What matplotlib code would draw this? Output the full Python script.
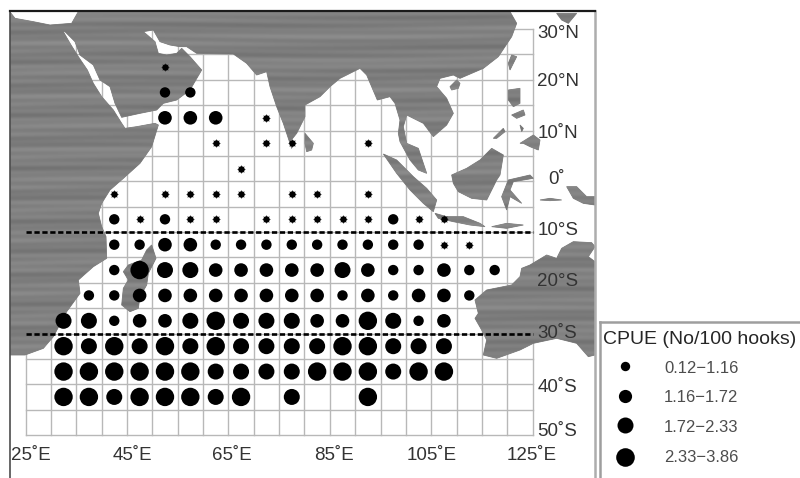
import numpy as np
import matplotlib
matplotlib.use("Agg")
import matplotlib.pyplot as plt
from matplotlib.path import Path
from matplotlib.patches import PathPatch

plt.rcParams["font.family"] = ["Liberation Sans", "DejaVu Sans"]

na = np.nan

# CPUE per 5 degree cell, one list per latitude row, west to east
lons = [27.5, 32.5, 37.5, 42.5, 47.5, 52.5, 57.5, 62.5, 67.5, 72.5,
        77.5, 82.5, 87.5, 92.5, 97.5, 102.5, 107.5, 112.5, 117.5, 122.5]
n225 = [na, na, na, na, na, 0.4, na, na, na, na, na, na, na, na, na, na, na, na, na, na]
n175 = [na, na, na, na, na, 0.9, 0.9, na, na, na, na, na, na, na, na, na, na, na, na, na]
n125 = [na, na, na, na, na, 1.5, 1.5, 1.5, na, 0.4, na, na, na, na, na, na, na, na, na, na]
n75 = [na, na, na, na, na, na, na, 0.4, na, 0.4, 0.4, na, na, 0.4, na, na, na, na, na, na]
n25 = [na, na, na, na, na, na, na, na, 0.4, na, na, na, na, na, na, na, na, na, na, na]
s25 = [na, na, na, 0.4, na, 0.4, 0.4, 0.4, 0.4, na, 0.4, 0.4, na, 0.4, na, na, na, na, na, na]
s75 = [na, na, na, 0.9, 0.4, 0.9, 0.4, 0.4, na, 0.4, 0.4, 0.4, 0.4, 0.4, 0.9, 0.4, 0.4, na, na, na]
s125 = [na, na, na, 0.9, 0.9, 1.4, 1.4, 0.9, 0.9, 0.9, 0.9, 0.9, 0.9, 0.9, 0.9, 0.9, 0.4, 0.4, na, na]
s175 = [na, na, na, 0.9, 2.9, 2.0, 2.0, 1.4, 1.4, 1.4, 1.4, 1.4, 2.0, 1.4, 0.9, 0.9, 1.4, 0.9, 0.9, na]
s225 = [na, na, 0.9, 0.9, 1.4, 1.4, 1.4, 1.4, 1.4, 1.4, 1.4, 1.4, 0.9, 1.4, 0.9, 1.4, 1.4, 0.9, na, na]
s275 = [na, 2.0, 2.0, 0.9, 1.4, 1.4, 2.0, 2.9, 2.0, 2.0, 2.0, 1.4, 1.4, 2.9, 2.0, 0.9, 1.4, na, na, na]
s325 = [na, 2.9, 2.0, 2.9, 2.0, 2.9, 2.0, 2.9, 2.0, 2.0, 2.0, 2.0, 2.9, 2.9, 2.0, 2.0, 2.0, na, na, na]
s375 = [na, 2.9, 2.9, 2.9, 2.9, 2.9, 2.9, 2.0, 2.0, 2.0, 2.0, 2.9, 2.9, 2.9, 2.0, 2.9, 2.9, na, na, na]
s425 = [na, 2.9, 2.9, 2.0, 2.9, 2.9, 2.9, 2.0, 2.9, na, 2.0, na, na, 2.9, na, na, na, na, na, na]
row_lats = [22.5, 17.5, 12.5, 7.5, 2.5, -2.5, -7.5, -12.5, -17.5, -22.5, -27.5, -32.5, -37.5, -42.5]
rows = [n225, n175, n125, n75, n25, s25, s75, s125, s175, s225, s275, s325, s375, s425]

legend_title = "CPUE (No/100 hooks)"
legend_labels = ["0.12\u22121.16", "1.16\u22121.72", "1.72\u22122.33", "2.33\u22123.86"]
lon_labels = ["25˚E", "45˚E", "65˚E", "85˚E", "105˚E", "125˚E"]
lat_labels = ["30°N", "20°N", "10˚N", "0˚", "10°S", "20°S", "30˚S", "40˚S", "50˚S"]

# coastlines at 3x, (x, y) with an offset per sheet
asia = [(660, 35), (680, 70), (665, 110), (625, 170), (580, 205), (510, 235), (490, 225),
        (450, 235), (440, 260), (470, 295), (490, 340), (470, 375), (430, 410), (400, 370),
        (350, 345), (340, 380), (350, 430), (385, 445), (410, 520), (385, 510), (360, 480),
        (330, 425), (325, 400), (330, 360), (315, 310), (300, 290), (262, 300), (230, 225),
        (210, 205), (150, 235), (120, 260), (90, 290), (45, 315), (45, 350), (20, 400), (0, 425)]
arabia = [(875, 445), (850, 370), (830, 320), (810, 260), (800, 215), (770, 225), (740, 190),
          (700, 162), (590, 160), (560, 140), (540, 140), (510, 135), (480, 125), (460, 90),
          (430, 95), (465, 125), (475, 160), (500, 165), (530, 160), (545, 145), (570, 170),
          (605, 210), (570, 270), (530, 300), (490, 310), (470, 330), (420, 340), (365, 352),
          (345, 310), (330, 260), (300, 240), (280, 195), (240, 165), (225, 125), (195, 95),
          (190, 95), (210, 130), (235, 170), (262, 210), (280, 250), (305, 290), (340, 330),
          (365, 370), (375, 385), (410, 380), (465, 370), (475, 375), (455, 440), (420, 490),
          (370, 535), (330, 570), (305, 610), (295, 640), (305, 680)]
africa_south = [(318, 20), (320, 85), (280, 110), (235, 150), (240, 190), (200, 245),
                (160, 320), (130, 355), (75, 375), (30, 375)]
africa_north = [(30, 35), (45, 55), (100, 65), (150, 75), (215, 70), (235, 35)]
madagascar = [(455, 45), (468, 85), (445, 130), (440, 165), (420, 200), (415, 235), (390, 245),
              (365, 225), (370, 175), (385, 150), (370, 125), (385, 105), (425, 90), (440, 60)]
sumatra = [(280, 462), (320, 480), (370, 530), (410, 565), (440, 600), (430, 635), (400, 610),
           (360, 570), (320, 520)]
java = [(435, 640), (470, 650), (520, 650), (570, 670), (585, 680), (540, 675), (490, 665), (445, 655)]
sunda = [(605, 680), (650, 670), (700, 675), (650, 685)]
borneo = [(485, 525), (530, 505), (570, 480), (605, 445), (640, 465), (630, 525), (620, 540),
          (590, 600), (545, 595), (505, 575), (490, 550)]
sulawesi = [(655, 540), (720, 525), (730, 535), (670, 545), (660, 570), (695, 610), (660, 590),
            (650, 630), (635, 590)]
luzon = [(655, 270), (690, 265), (690, 310), (670, 320), (655, 300)]
mindanao = [(690, 430), (730, 405), (750, 420), (745, 450), (720, 440), (700, 430)]
visayas = [(665, 345), (700, 330), (705, 345), (680, 355)]
samar = [(690, 375), (700, 385), (695, 395)]
palawan = [(610, 415), (640, 385), (645, 395), (620, 415)]
taiwan = [(660, 210), (680, 170), (665, 165), (655, 190)]
hainan = [(480, 260), (500, 240), (510, 250), (505, 265), (485, 270)]
sri_lanka = [(45, 400), (70, 430), (65, 450), (50, 455), (45, 430)]
new_guinea = [(830, 560), (860, 560), (890, 590), (915, 590), (915, 615), (880, 610), (850, 595)]
ceram = [(750, 600), (780, 595), (815, 600), (780, 602)]
japan = [(800, 40), (860, 40), (835, 70), (815, 60)]
australia = [(915, 95), (895, 80), (915, 50), (905, 38), (850, 35), (815, 55), (800, 85), (770, 75),
             (720, 105), (695, 115), (690, 140), (665, 165), (590, 180), (555, 210), (565, 250),
             (555, 265), (575, 300), (590, 330), (580, 375), (620, 385), (690, 360), (730, 340),
             (800, 325), (860, 340), (895, 380), (915, 375)]


def lon_of(px):
    return 25 + (px - 25.5) / 5.072


def lat_of(py):
    return 30 - (py - 29) / 5.075


def trace(points, ox, oy):
    return [(lon_of(ox + x / 3), lat_of(oy + y / 3)) for x, y in points]


def radius_to_size(r):
    # pixel radius to scatter area at dpi 100
    return (2 * r * 0.72) ** 2


fig = plt.figure(figsize=(8, 4.78), dpi=100)
fig.patch.set_facecolor("white")

# main map frame, in pixels 10..595 / 11..478
ax = fig.add_axes([10 / 800, 0, 585 / 800, 467 / 478])
ax.set_xlim(lon_of(10), lon_of(595))
ax.set_ylim(lat_of(478), lat_of(11))
ax.set_xticks([])
ax.set_yticks([])
ax.spines["bottom"].set_visible(False)
ax.spines["left"].set_color("0.3")
ax.spines["left"].set_linewidth(1.2)
ax.spines["top"].set_color("0.1")
ax.spines["top"].set_linewidth(1.6)
ax.spines["right"].set_color("0.68")
ax.spines["right"].set_linewidth(1.8)

# 5 degree grid
for lon in range(25, 130, 5):
    ax.plot([lon, lon], [-50, 30], color="0.72", lw=1.0, zorder=1)
for lat in range(-50, 35, 5):
    ax.plot([25, 125], [lat, lat], color="0.72", lw=1.0, zorder=1)

# land
main_land = ([(lon_of(10), lat_of(355)), (lon_of(10), lat_of(12))]
             + trace(africa_north[1:], 0, 0)
             + [(lon_of(510), lat_of(12))]
             + trace(asia, 290, 0)
             + trace(arabia, 0, 0)
             + trace(africa_south, 0, 230))
islands = [trace(sri_lanka, 290, 0), trace(sumatra, 290, 0), trace(java, 290, 0), trace(sunda, 290, 0),
           trace(borneo, 290, 0), trace(sulawesi, 290, 0), trace(luzon, 290, 0), trace(mindanao, 290, 0),
           trace(visayas, 290, 0), trace(samar, 290, 0), trace(palawan, 290, 0), trace(taiwan, 290, 0),
           trace(hainan, 290, 0), trace(new_guinea, 290, 0), trace(ceram, 290, 0), trace(japan, 290, 0),
           trace(madagascar, 0, 230), trace(australia, 290, 230)]

verts, codes = [], []
for poly in [main_land] + islands:
    verts += poly + [poly[0]]
    codes += [Path.MOVETO] + [Path.LINETO] * (len(poly) - 1) + [Path.CLOSEPOLY]
land_path = Path(verts, codes)
land = PathPatch(land_path, facecolor="0.5", edgecolor="0.5", lw=0.6, zorder=2)
ax.add_patch(land)

# scanned look of the land fill, faint horizontal banding
yy, xx = np.mgrid[0:467, 0:585]
bands = (0.50 + 0.018 * np.sin(yy * 0.83 + 0.8 * np.sin(xx / 70))
         + 0.022 * np.sin(yy * 0.23 + xx / 150) + 0.012 * np.sin(yy * 0.47 - xx / 90))
img = ax.imshow(bands, cmap="gray", vmin=0, vmax=1, aspect="auto", zorder=2.1,
                extent=[lon_of(10), lon_of(595), lat_of(478), lat_of(11)],
                interpolation="bilinear")
img.set_clip_path(land)
ax.set_xlim(lon_of(10), lon_of(595))
ax.set_ylim(lat_of(478), lat_of(11))

# dashed latitude limits
for lat in [-10, -30]:
    ax.plot([25, 125], [lat, lat], color="black", lw=1.9, dashes=(2.0, 1.0), zorder=3)

# CPUE dots
edges = [0.6, 1.16, 1.72, 2.33]
class_radius = np.array([3.0, 5.2, 6.8, 8.0, 9.2])
for lat, row in zip(row_lats, rows):
    vals = np.array(row)
    keep = ~np.isnan(vals)
    cls = np.digitize(vals[keep], edges)
    x = np.array(lons)[keep]
    y = np.full(x.shape, lat)
    tiny = cls == 0
    ax.scatter(x[~tiny], y[~tiny], s=radius_to_size(class_radius[cls[~tiny]]), color="black",
               linewidths=0, zorder=4)
    ax.scatter(x[tiny], y[tiny], s=radius_to_size(3.2), color="black", linewidths=0, zorder=4)
    ax.scatter(x[tiny], y[tiny], s=radius_to_size(4.6), marker=(8, 1, 0), color="0.25",
               linewidths=0, zorder=3.9)

# axis labels sit inside the frame
lon_label_px = [31, 132, 231.5, 334, 432, 532]
for label, px in zip(lon_labels, lon_label_px):
    ax.text(lon_of(px), lat_of(456), label, ha="center", va="center", fontsize=13.5, color="0.2", zorder=5)
lat_label_px = [33, 82, 134, 179, 231, 282, 334, 387, 431]
for label, py in zip(lat_labels, lat_label_px):
    x0 = 548 if label == "0˚" else 537.5
    ax.text(lon_of(x0), lat_of(py), label, ha="left", va="center", fontsize=13.5, color="0.2", zorder=5)

# legend box, in pixels 600..800 / 322..478
lax = fig.add_axes([600 / 800, 0, 200 / 800, 156 / 478])
lax.set_xlim(600, 800)
lax.set_ylim(478, 322)
lax.set_xticks([])
lax.set_yticks([])
lax.spines["right"].set_visible(False)
lax.spines["bottom"].set_visible(False)
lax.spines["left"].set_color("0.62")
lax.spines["left"].set_linewidth(1.8)
lax.spines["top"].set_color("0.62")
lax.spines["top"].set_linewidth(1.8)
lax.text(603, 339, legend_title, ha="left", va="center", fontsize=14, color="0.15")
legend_r = [4.7, 6.6, 8.0, 9.3]
legend_dot_y = [366, 396, 425, 457]
legend_text_y = [368, 397, 427, 457]
for label, r, dy, ty in zip(legend_labels, legend_r, legend_dot_y, legend_text_y):
    lax.scatter([624.5], [dy], s=radius_to_size(r), color="black", linewidths=0)
    lax.text(664, ty, label, ha="left", va="center", fontsize=12, color="0.3")

plt.savefig("out.png", dpi=100)
plt.close()
